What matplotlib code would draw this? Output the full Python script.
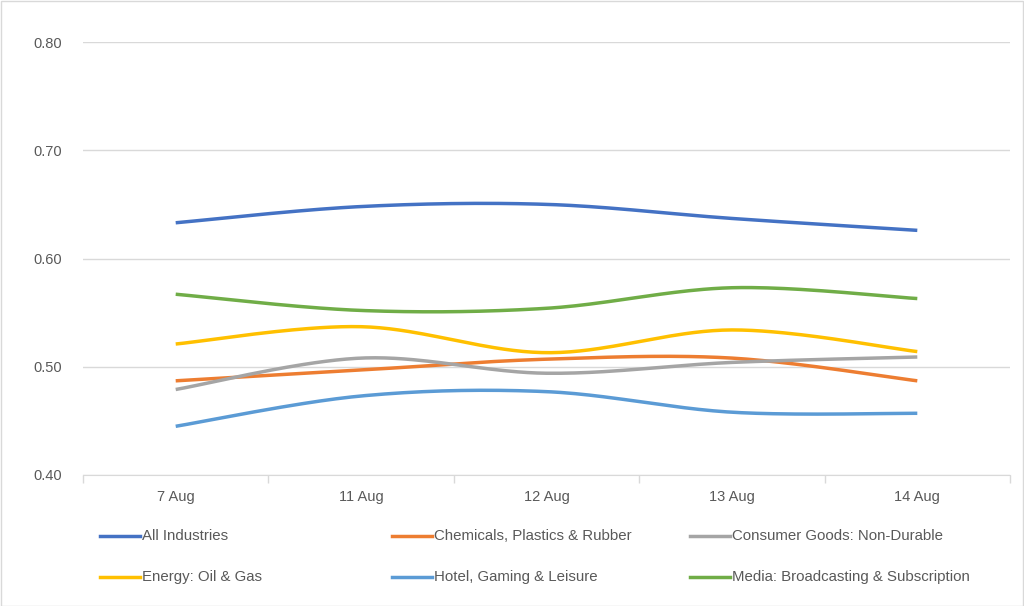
import numpy as np
import matplotlib.pyplot as plt
from matplotlib.lines import Line2D
from matplotlib.patches import Rectangle

plt.rcParams['font.family'] = ['Liberation Sans', 'DejaVu Sans']

dates = ["7 Aug", "11 Aug", "12 Aug", "13 Aug", "14 Aug"]
series_names = [
    "All Industries",
    "Chemicals, Plastics & Rubber",
    "Consumer Goods: Non-Durable",
    "Energy: Oil & Gas",
    "Hotel, Gaming & Leisure",
    "Media: Broadcasting & Subscription",
]
all_industries = [0.633, 0.648, 0.650, 0.637, 0.626]
chemicals = [0.487, 0.497, 0.507, 0.508, 0.487]
consumer_goods = [0.479, 0.508, 0.494, 0.504, 0.509]
energy = [0.521, 0.537, 0.513, 0.534, 0.514]
hotel = [0.445, 0.473, 0.477, 0.458, 0.457]
media = [0.567, 0.552, 0.554, 0.573, 0.563]
colors = ["#4472C4", "#ED7D31", "#A5A5A5", "#FFC000", "#5B9BD5", "#70AD47"]

all_series = [all_industries, chemicals, consumer_goods, energy, hotel, media]


def smooth(xs, ys, n=40):
    # Excel-like smoothed line (Catmull-Rom as cubic Bezier)
    p = np.column_stack([xs, ys]).astype(float)
    pts = np.vstack([p[0], p, p[-1]])
    out = []
    t = np.linspace(0, 1, n)[:, None]
    for i in range(1, len(pts) - 2):
        p0, p1, p2, p3 = pts[i - 1], pts[i], pts[i + 1], pts[i + 2]
        c1 = p1 + (p2 - p0) / 6
        c2 = p2 - (p3 - p1) / 6
        seg = ((1 - t) ** 3) * p1 + 3 * ((1 - t) ** 2) * t * c1 + 3 * (1 - t) * t ** 2 * c2 + t ** 3 * p2
        out.append(seg if i == 1 else seg[1:])
    out = np.vstack(out)
    return out[:, 0], out[:, 1]


fig = plt.figure(figsize=(10.24, 6.06), dpi=100)
W, H = 1024, 606
ax = fig.add_axes([83 / W, 1 - 475 / H, (1010 - 83) / W, (475 - 42) / H])

x = np.arange(len(dates))
for vals, name, c in zip(all_series, series_names, colors):
    sx, sy = smooth(x, vals)
    ax.plot(sx, sy, color=c, lw=2.5, solid_capstyle='butt', label=name)

ax.set_xlim(-0.5, len(dates) - 0.5)
ax.set_ylim(0.40, 0.80)
ax.set_yticks([0.40, 0.50, 0.60, 0.70, 0.80])
ax.set_yticklabels([f"{v:.2f}" for v in [0.40, 0.50, 0.60, 0.70, 0.80]])
ax.set_xticks(x)
ax.set_xticklabels(dates)
ax.set_xticks(np.arange(-0.5, len(dates)), minor=True)
ax.tick_params(axis='x', which='major', length=0, pad=10.5, labelsize=10.5, labelcolor='#595959')
ax.tick_params(axis='x', which='minor', length=6, color='#D9D9D9', width=1)
ax.tick_params(axis='y', length=0, pad=15, labelsize=10.5, labelcolor='#595959')
ax.grid(axis='y', color='#D9D9D9', lw=1)
ax.set_axisbelow(True)
for s in ['top', 'right', 'left']:
    ax.spines[s].set_visible(False)
ax.spines['bottom'].set_color('#D9D9D9')

# legend laid out like the Excel one
leg_x = [100, 392, 690]
leg_y = [536, 577]
for i, (name, c) in enumerate(zip(series_names, colors)):
    lx = leg_x[i % 3]
    ly = leg_y[i // 3]
    fig.add_artist(Line2D([lx / W, (lx + 40) / W], [1 - ly / H, 1 - ly / H], color=c, lw=2.5))
    fig.text((lx + 42) / W, 1 - ly / H, name, fontsize=10.8, color='#595959', va='center', ha='left')

fig.add_artist(Rectangle((0.5 / W, 0.5 / H), 1 - 1.5 / W, 1 - 1.5 / H, transform=fig.transFigure,
                         fill=False, edgecolor='#D9D9D9', lw=1))

fig.savefig("out.png", dpi=100)
